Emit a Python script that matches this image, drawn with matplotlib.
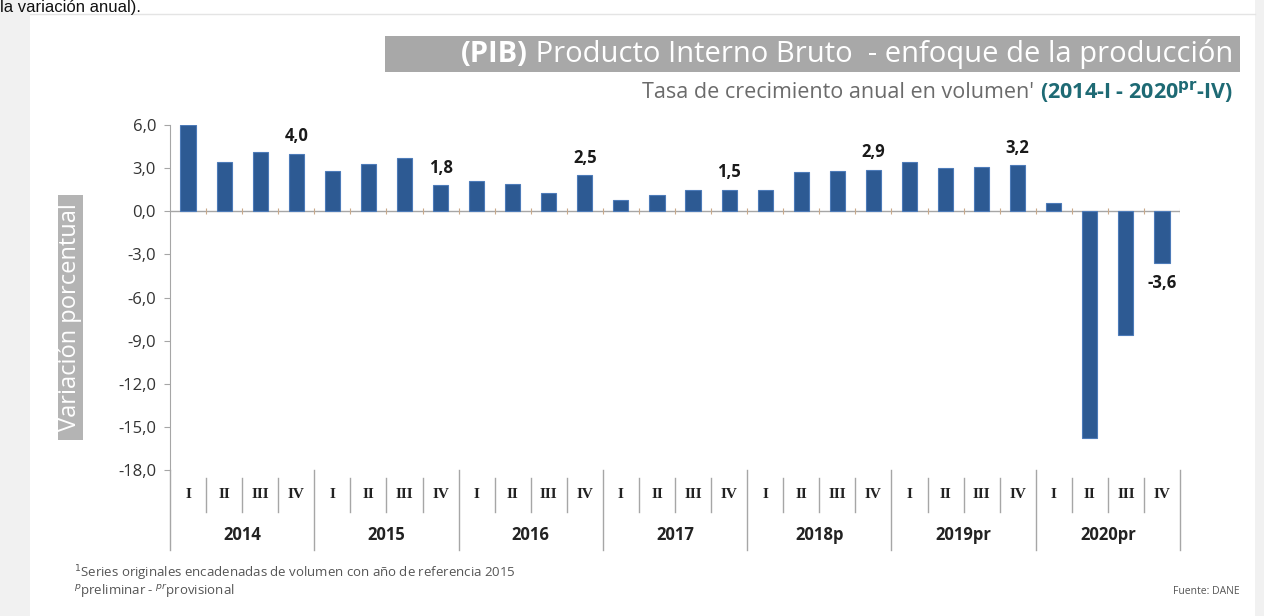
import matplotlib
matplotlib.use('Agg')
import matplotlib.pyplot as plt
from matplotlib.patches import Rectangle
from matplotlib.lines import Line2D

years = ['2014', '2015', '2016', '2017', '2018p', '2019pr', '2020pr']
quarters = ['I', 'II', 'III', 'IV']
growth = [
    6.0, 3.4, 4.1, 4.0,
    2.8, 3.3, 3.7, 1.8,
    2.1, 1.9, 1.3, 2.5,
    0.8, 1.1, 1.5, 1.5,
    1.5, 2.7, 2.8, 2.9,
    3.4, 3.0, 3.1, 3.2,
    0.6, -15.8, -8.6, -3.6,
]
yticks = [6, 3, 0, -3, -6, -9, -12, -15, -18]

plt.rcParams['font.family'] = ['Open Sans', 'DejaVu Sans']

BAR = '#2d5a93'
GRAY_AX = '#a6a6a6'


def fmtComma(v: float) -> str:
    return f'{v:.1f}'.replace('.', ',')


fig = plt.figure(figsize=(12.64, 6.16), dpi=100)
fig.patch.set_facecolor('white')

# slide background pieces
fig.add_artist(Rectangle((0, 0), 30 / 1264, 1, transform=fig.transFigure,
                         facecolor='#f1f1f1', edgecolor='none', zorder=-2))
fig.add_artist(Rectangle((1255 / 1264, 0), 9 / 1264, 1, transform=fig.transFigure,
                         facecolor='#f1f1f1', edgecolor='none', zorder=-2))
fig.add_artist(Line2D([30 / 1264, 1255 / 1264], [1 - 14 / 616, 1 - 14 / 616],
                      transform=fig.transFigure, color='#e4e4e4', lw=1, zorder=-1))
fig.text(0.0, 1.0, 'la variación anual).', fontsize=12, va='top',
         family='Liberation Sans', color='#111111')

ax = fig.add_axes([170 / 1264, 1 - 470 / 616, 1010 / 1264, 345 / 616])

n = len(growth)
xs = list(range(n))
ax.bar(xs, growth, width=0.42, color=BAR, edgecolor='#4d7bb8', linewidth=0.8, zorder=3)

ax.set_xlim(-0.5, n - 0.5)
ax.set_ylim(-18, 6)
ax.set_yticks(yticks)
ax.set_yticklabels([fmtComma(v) for v in yticks], fontsize=12, color='#333333')
ax.tick_params(axis='y', length=4, color=GRAY_AX, pad=6)
ax.set_xticks([])
for side in ['top', 'right', 'bottom']:
    ax.spines[side].set_visible(False)
ax.spines['left'].set_color(GRAY_AX)

# zero line with small category ticks
ax.axhline(0, color=GRAY_AX, lw=1, zorder=2)
bounds = [i - 0.5 for i in range(n + 1)]
ax.vlines(bounds[1:], -0.22, 0.22, color='#c9a98a', lw=0.8, zorder=2)

# value labels on the fourth quarters
for i, v in enumerate(growth):
    if i % 4 == 3:
        if v >= 0:
            ax.annotate(fmtComma(v), (i, v), xytext=(0, 6), textcoords='offset points',
                        ha='center', va='bottom', fontsize=12, fontweight='bold',
                        color='#1a1a1a')
        else:
            ax.annotate(fmtComma(v), (i, v), xytext=(0, -8), textcoords='offset points',
                        ha='center', va='top', fontsize=12, fontweight='bold',
                        color='#1a1a1a')

# category axis below the plot
tr = ax.get_xaxis_transform()
for i in range(n):
    ax.text(i, -0.072, quarters[i % 4], transform=tr, ha='center', va='center',
            fontsize=11, family='Liberation Serif', fontweight='bold', color='#222222')
for b in bounds:
    k = int(b + 0.5)
    if k % 4 == 0:
        ax.plot([b, b], [0, -0.232], transform=tr, color=GRAY_AX, lw=1, clip_on=False)
    else:
        ax.plot([b, b], [-0.023, -0.122], transform=tr, color=GRAY_AX, lw=1, clip_on=False)
for j, y in enumerate(years):
    ax.text(j * 4 + 1.5, -0.188, y, transform=tr, ha='center', va='center',
            fontsize=12, fontweight='bold', color='#222222')

# y label box
fig.add_artist(Rectangle((58 / 1264, 1 - 440 / 616), 25 / 1264, 245 / 616,
                         transform=fig.transFigure, facecolor='#b4b4b4',
                         edgecolor='none', zorder=-1))
fig.text(70.5 / 1264, 1 - 317 / 616, 'Variación porcentual', rotation=90, ha='center',
         va='center', fontsize=17, color='white')

# title box
fig.add_artist(Rectangle((385 / 1264, 1 - 72 / 616), 855 / 1264, 36 / 616,
                         transform=fig.transFigure, facecolor='#a8a8a8',
                         edgecolor='none', zorder=-1))
t1 = fig.text(1233 / 1264, 1 - 54 / 616, ' Producto Interno Bruto  - enfoque de la producción',
              ha='right', va='center', fontsize=21, color='white')
ax.annotate('(PIB)', xy=(0, 0.5), xycoords=t1, ha='right', va='center', fontsize=21,
            fontweight='bold', color='white', annotation_clip=False)

t2 = fig.text(1233 / 1264, 1 - 93 / 616, '(2014-I - 2020$^{\\mathbf{pr}}$-IV)',
              ha='right', va='center', fontsize=15.5, fontweight='bold', color='#1e6a74')
ax.annotate("Tasa de crecimiento anual en volumen' ", xy=(0, 0.5), xycoords=t2,
            ha='right', va='center', fontsize=15.5, color='#6b6b6b', annotation_clip=False)

# footnotes
fig.text(74 / 1264, 1 - 573 / 616,
         '$^{1}$Series originales encadenadas de volumen con año de referencia 2015',
         fontsize=9.5, color='#555555', va='center')
fig.text(74 / 1264, 1 - 591 / 616, '$^{p}$preliminar - $^{pr}$provisional',
         fontsize=9.5, color='#555555', va='center')
fig.text(1240 / 1264, 1 - 591 / 616, 'Fuente: DANE', fontsize=7.5, color='#555555',
         ha='right', va='center')

fig.savefig('out.png', dpi=100)
